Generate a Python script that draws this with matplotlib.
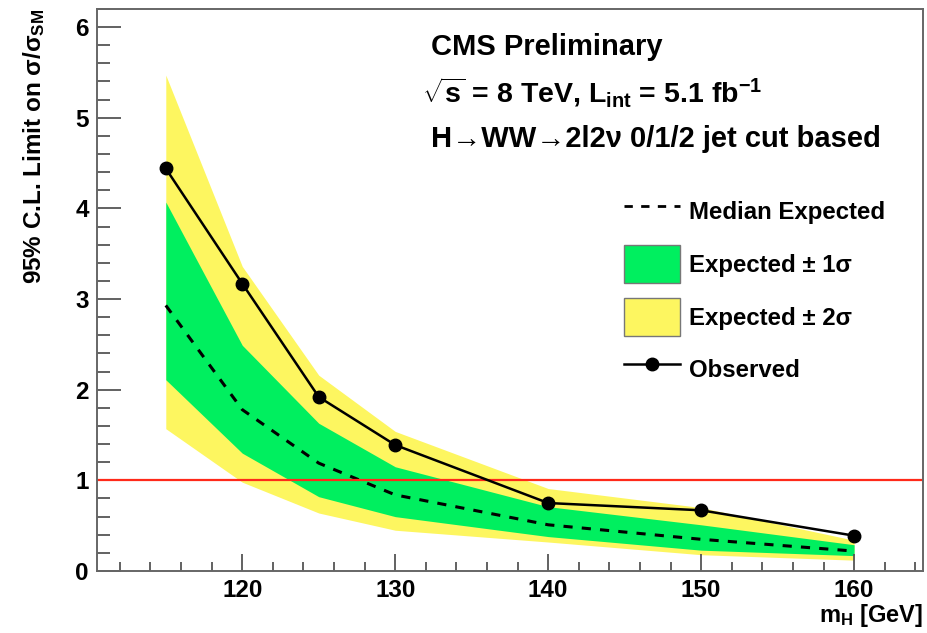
import matplotlib
matplotlib.use("Agg")
import matplotlib.pyplot as plt
from matplotlib.lines import Line2D
from matplotlib.patches import Patch
from matplotlib.ticker import MultipleLocator

plt.rcParams["font.family"] = ["Liberation Sans", "DejaVu Sans"]
plt.rcParams["font.weight"] = "bold"
plt.rcParams["axes.labelweight"] = "bold"
plt.rcParams["mathtext.fontset"] = "custom"
plt.rcParams["mathtext.rm"] = "Liberation Sans:bold"
plt.rcParams["mathtext.it"] = "Liberation Sans:bold"
plt.rcParams["mathtext.bf"] = "Liberation Sans:bold"

# Higgs masses and limits
mass = [115, 120, 125, 130, 140, 150, 160]
observed = [4.44, 3.17, 1.92, 1.39, 0.75, 0.67, 0.39]
median = [2.93, 1.78, 1.19, 0.84, 0.51, 0.35, 0.22]
sig1_lo = [2.11, 1.30, 0.82, 0.60, 0.38, 0.23, 0.17]
sig1_hi = [4.07, 2.49, 1.63, 1.15, 0.71, 0.51, 0.29]
sig2_lo = [1.57, 0.98, 0.64, 0.45, 0.32, 0.18, 0.12]
sig2_hi = [5.47, 3.36, 2.16, 1.54, 0.91, 0.70, 0.34]

GREEN = "#00ef5f"
YELLOW = "#fdf660"

fig = plt.figure(figsize=(9.27, 6.33), dpi=100)
ax = fig.add_axes([0.1046, 0.0979, 0.891, 0.888])

ax.fill_between(mass, sig2_lo, sig2_hi, color=YELLOW, lw=0)
ax.fill_between(mass, sig1_lo, sig1_hi, color=GREEN, lw=0)
ax.plot(mass, median, color="black", ls=(0, (3, 3)), lw=2.2)
ax.axhline(1, color="#ff2a1a", lw=1.6)
ax.plot(mass, observed, color="black", lw=1.8, marker="o", ms=9)

ax.set_xlim(110.5, 164.5)
ax.set_ylim(0, 6.2)
ax.xaxis.set_major_locator(MultipleLocator(10))
ax.xaxis.set_minor_locator(MultipleLocator(2))
ax.yaxis.set_major_locator(MultipleLocator(1))
ax.yaxis.set_minor_locator(MultipleLocator(0.2))
ax.tick_params(axis="both", which="both", direction="in", colors="#555555",
               labelcolor="black", width=1.3, labelsize=17.5, pad=6)
ax.tick_params(axis="y", which="major", length=17)
ax.tick_params(axis="y", which="minor", length=9)
ax.tick_params(axis="x", which="major", length=12)
ax.tick_params(axis="x", which="minor", length=6.5)
for sp in ax.spines.values():
    sp.set_color("#666666")
    sp.set_linewidth(1.4)

ax.set_xlabel(r"m$_{\rm H}$ [GeV]", loc="right", fontsize=17, labelpad=0)
ax.set_ylabel(r"95% C.L. Limit on $\sigma/\sigma_{\rm SM}$", loc="top",
              fontsize=17.5, labelpad=20)

ax.text(0.405, 0.932, "CMS Preliminary", transform=ax.transAxes,
        fontsize=21, va="center", ha="left")
ax.text(0.393, 0.852, r"$\sqrt{s}$ = 8 TeV, L$_{\rm int}$ = 5.1 fb$^{-1}$",
        transform=ax.transAxes, fontsize=20.5, va="center", ha="left")
ax.text(0.405, 0.768, "H→WW→2l2ν 0/1/2 jet cut based", transform=ax.transAxes,
        fontsize=21, va="center", ha="left")

handles = [
    Line2D([], [], color="black", ls=(0, (3, 3)), lw=2),
    Patch(facecolor=GREEN, edgecolor="#777777", lw=1),
    Patch(facecolor=YELLOW, edgecolor="#777777", lw=1),
    Line2D([], [], color="black", lw=1.8, marker="o", ms=9),
]
labels = ["Median Expected", "Expected ± 1σ", "Expected ± 2σ", "Observed"]
ax.legend(handles, labels, loc="upper left", bbox_to_anchor=(0.624, 0.695),
          frameon=False, fontsize=17.3, handlelength=2.3, handleheight=2.05,
          labelspacing=0.62, handletextpad=0.4, borderpad=0)

fig.savefig("out.png", dpi=100)
